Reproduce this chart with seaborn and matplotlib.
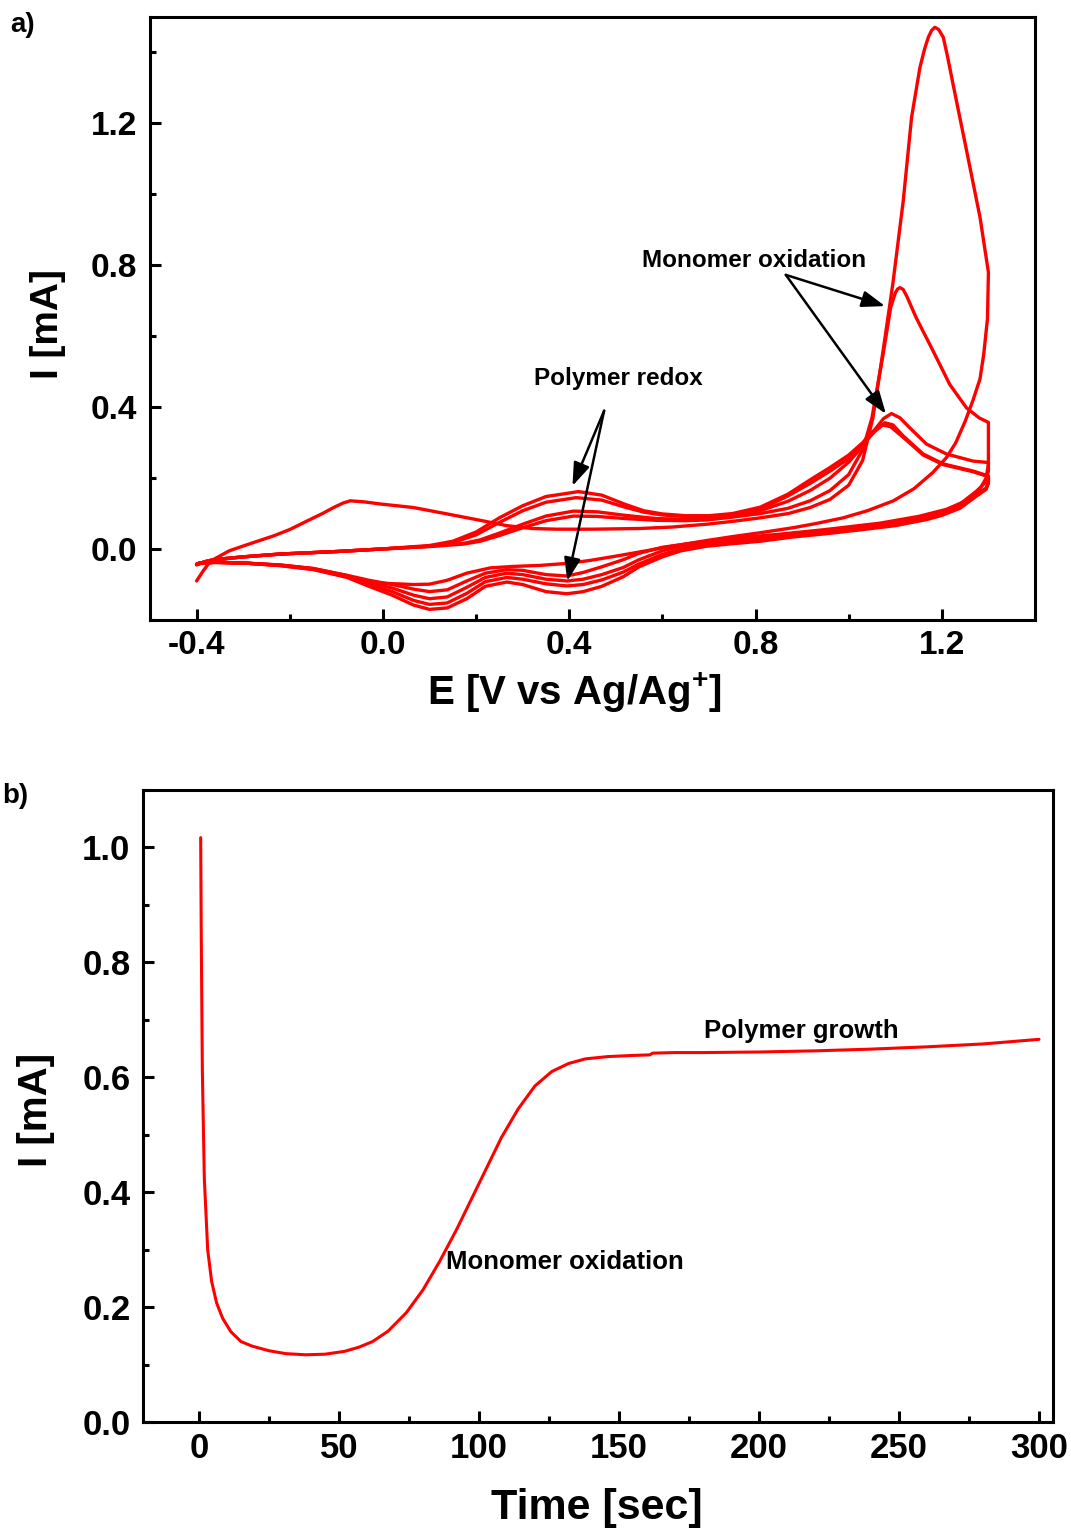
import matplotlib
matplotlib.use("Agg")
import numpy as np
import pandas as pd
import matplotlib.pyplot as plt
import seaborn as sns
from matplotlib.ticker import MultipleLocator

# ---------------- data: panel a (cyclic voltammograms, 5 cycles) ----------------
c1_fwd_E = [-0.40, -0.385, -0.37, -0.33, -0.29, -0.235, -0.20, -0.163, -0.13, -0.106, -0.085, -0.07, -0.04,
            -0.005, 0.066, 0.138, 0.209, 0.266, 0.32, 0.373, 0.45, 0.552, 0.62, 0.695, 0.75, 0.81, 0.87, 0.917,
            0.96, 1.00, 1.03, 1.052, 1.074, 1.095, 1.117, 1.135, 1.153, 1.163, 1.171, 1.178, 1.185, 1.193, 1.203,
            1.212, 1.224, 1.253, 1.282, 1.30]
c1_fwd_I = [-0.09, -0.06, -0.034, -0.005, 0.013, 0.037, 0.055, 0.079, 0.100, 0.117, 0.130, 0.136, 0.133,
            0.127, 0.117, 0.099, 0.081, 0.066, 0.058, 0.056, 0.056, 0.058, 0.062, 0.07, 0.078, 0.088, 0.10, 0.117,
            0.14, 0.18, 0.25, 0.37, 0.56, 0.75, 0.98, 1.217, 1.358, 1.41, 1.443, 1.462, 1.471, 1.465, 1.443,
            1.39, 1.311, 1.124, 0.935, 0.78]
c1_rev_E = [1.298, 1.29, 1.282, 1.267, 1.25, 1.23, 1.21, 1.18, 1.14, 1.096, 1.04, 0.988, 0.93, 0.88, 0.81, 0.75,
            0.695, 0.62, 0.552, 0.50, 0.445, 0.40, 0.338, 0.28, 0.231, 0.18, 0.138, 0.10, 0.066, 0.03, -0.005,
            -0.04, -0.077, -0.149, -0.22, -0.291, -0.36, -0.39, -0.40]
c1_rev_I = [0.65, 0.55, 0.48, 0.42, 0.36, 0.30, 0.258, 0.215, 0.17, 0.136, 0.108, 0.088, 0.072, 0.06, 0.046, 0.035,
            0.024, 0.008, -0.008, -0.02, -0.032, -0.040, -0.046, -0.049, -0.053, -0.068, -0.088, -0.099, -0.10,
            -0.098, -0.096, -0.09, -0.075, -0.055, -0.045, -0.040, -0.038, -0.040, -0.045]

c2_fwd_E = [-0.40, -0.38, -0.363, -0.30, -0.22, -0.10, -0.005, 0.10, 0.173, 0.209, 0.25, 0.30, 0.35, 0.409, 0.46,
            0.52, 0.587, 0.65, 0.695, 0.75, 0.81, 0.87, 0.917, 0.96, 1.00, 1.03, 1.05, 1.074, 1.09, 1.10, 1.105,
            1.11, 1.117, 1.125, 1.145, 1.181, 1.217, 1.253, 1.28, 1.30]
c2_fwd_I = [-0.043, -0.035, -0.03, -0.022, -0.014, -0.007, 0.0, 0.007, 0.014, 0.022, 0.038, 0.06, 0.08, 0.093, 0.092,
            0.086, 0.081, 0.08, 0.082, 0.09, 0.10, 0.115, 0.136, 0.165, 0.21, 0.28, 0.37, 0.55, 0.68, 0.722, 0.733,
            0.737, 0.732, 0.712, 0.652, 0.559, 0.464, 0.398, 0.37, 0.357]
c2_rev_E = [1.30, 1.30, 1.295, 1.28, 1.25, 1.21, 1.15, 1.067, 0.95, 0.853, 0.75, 0.695, 0.60, 0.55, 0.516, 0.47,
            0.43, 0.395, 0.35, 0.30, 0.266, 0.22, 0.18, 0.138, 0.10, 0.066, 0.02, -0.03, -0.077, -0.149, -0.22,
            -0.291, -0.36, -0.395, -0.40]
c2_rev_I = [0.30, 0.24, 0.20, 0.165, 0.135, 0.112, 0.092, 0.073, 0.055, 0.042, 0.030, 0.022, 0.005, -0.012, -0.03,
            -0.05, -0.066, -0.076, -0.072, -0.06, -0.058, -0.068, -0.09, -0.115, -0.12, -0.113, -0.10, -0.088,
            -0.074, -0.055, -0.045, -0.040, -0.037, -0.040, -0.043]

c3_fwd_E = [-0.40, -0.38, -0.363, -0.30, -0.22, -0.10, -0.005, 0.10, 0.173, 0.209, 0.25, 0.30, 0.35, 0.409, 0.46,
            0.52, 0.587, 0.65, 0.695, 0.75, 0.81, 0.87, 0.917, 0.96, 1.00, 1.03, 1.055, 1.075, 1.092, 1.11, 1.131,
            1.167, 1.21, 1.267, 1.30]
c3_fwd_I = [-0.043, -0.035, -0.03, -0.022, -0.014, -0.007, 0.0, 0.008, 0.016, 0.026, 0.045, 0.07, 0.093, 0.107,
            0.105, 0.095, 0.086, 0.084, 0.085, 0.092, 0.108, 0.135, 0.165, 0.20, 0.245, 0.29, 0.335, 0.368, 0.382,
            0.37, 0.342, 0.296, 0.268, 0.248, 0.244]
c3_rev_E = [1.30, 1.295, 1.275, 1.239, 1.20, 1.167, 1.10, 1.024, 0.95, 0.88, 0.81, 0.75, 0.695, 0.64, 0.60, 0.55,
            0.516, 0.47, 0.43, 0.395, 0.35, 0.30, 0.266, 0.22, 0.18, 0.138, 0.10, 0.066, 0.02, -0.03, -0.077,
            -0.149, -0.22, -0.291, -0.36, -0.395, -0.40]
c3_rev_I = [0.22, 0.19, 0.164, 0.127, 0.105, 0.092, 0.075, 0.062, 0.052, 0.044, 0.034, 0.027, 0.019, 0.008, -0.005,
            -0.03, -0.052, -0.072, -0.085, -0.09, -0.085, -0.072, -0.068, -0.08, -0.108, -0.135, -0.14, -0.13,
            -0.11, -0.094, -0.076, -0.056, -0.046, -0.040, -0.037, -0.040, -0.043]

c4_fwd_E = [-0.40, -0.38, -0.363, -0.30, -0.22, -0.10, -0.005, 0.10, 0.15, 0.20, 0.25, 0.30, 0.35, 0.415, 0.47,
            0.52, 0.56, 0.60, 0.65, 0.70, 0.75, 0.81, 0.87, 0.917, 0.96, 1.00, 1.03, 1.055, 1.078, 1.095, 1.117,
            1.16, 1.203, 1.267, 1.30]
c4_fwd_I = [-0.043, -0.035, -0.03, -0.022, -0.014, -0.007, 0.0, 0.008, 0.018, 0.04, 0.075, 0.108, 0.132, 0.145,
            0.138, 0.118, 0.104, 0.096, 0.092, 0.092, 0.097, 0.112, 0.15, 0.185, 0.22, 0.255, 0.295, 0.33, 0.356,
            0.35, 0.319, 0.268, 0.24, 0.22, 0.206]
c4_rev_E = [1.30, 1.295, 1.275, 1.239, 1.20, 1.167, 1.10, 1.024, 0.95, 0.88, 0.81, 0.75, 0.695, 0.64, 0.60, 0.55,
            0.516, 0.47, 0.43, 0.395, 0.35, 0.30, 0.266, 0.22, 0.18, 0.138, 0.10, 0.066, 0.02, -0.03, -0.077,
            -0.149, -0.22, -0.291, -0.36, -0.395, -0.40]
c4_rev_I = [0.19, 0.172, 0.155, 0.12, 0.1, 0.088, 0.07, 0.058, 0.047, 0.038, 0.027, 0.02, 0.013, 0.0, -0.015,
            -0.042, -0.065, -0.087, -0.1, -0.104, -0.098, -0.085, -0.08, -0.092, -0.125, -0.152, -0.156, -0.145,
            -0.12, -0.1, -0.078, -0.057, -0.046, -0.040, -0.037, -0.040, -0.043]

c5_fwd_E = [-0.40, -0.38, -0.363, -0.30, -0.22, -0.10, -0.005, 0.10, 0.15, 0.20, 0.25, 0.30, 0.35, 0.42, 0.47,
            0.52, 0.56, 0.60, 0.65, 0.70, 0.75, 0.81, 0.87, 0.917, 0.96, 1.00, 1.03, 1.05, 1.072, 1.09, 1.117,
            1.16, 1.203, 1.267, 1.30]
c5_fwd_I = [-0.043, -0.035, -0.03, -0.022, -0.014, -0.007, 0.0, 0.01, 0.022, 0.048, 0.088, 0.122, 0.148, 0.162,
            0.152, 0.126, 0.108, 0.099, 0.094, 0.094, 0.1, 0.118, 0.155, 0.195, 0.23, 0.265, 0.30, 0.33, 0.35,
            0.345, 0.315, 0.265, 0.238, 0.218, 0.204]
c5_rev_E = [1.30, 1.295, 1.275, 1.239, 1.20, 1.167, 1.10, 1.024, 0.95, 0.88, 0.81, 0.75, 0.695, 0.64, 0.60, 0.55,
            0.516, 0.47, 0.43, 0.395, 0.35, 0.30, 0.266, 0.22, 0.18, 0.138, 0.10, 0.066, 0.02, -0.03, -0.077,
            -0.149, -0.22, -0.291, -0.36, -0.395, -0.40]
c5_rev_I = [0.185, 0.168, 0.15, 0.115, 0.095, 0.083, 0.066, 0.054, 0.043, 0.034, 0.022, 0.015, 0.008, -0.005,
            -0.022, -0.05, -0.078, -0.105, -0.12, -0.126, -0.12, -0.1, -0.093, -0.105, -0.14, -0.166, -0.17,
            -0.158, -0.13, -0.105, -0.08, -0.058, -0.047, -0.040, -0.037, -0.040, -0.043]

# ---------------- data: panel b (chronoamperometry) ----------------
time_s = [0.6, 0.8, 1.2, 1.9, 3.1, 4.5, 6.3, 8.5, 11.4, 15, 19, 25, 31, 38, 45, 52, 57, 62, 67.5, 74, 80, 86, 92,
          96, 100, 104, 108, 114, 120, 126, 132, 138, 146, 155, 161, 162, 170, 180, 200, 220, 240, 260, 280, 300]
current_mA = [1.017, 0.85, 0.61, 0.424, 0.30, 0.245, 0.207, 0.18, 0.157, 0.14, 0.132, 0.124, 0.119, 0.117, 0.118,
              0.123, 0.130, 0.14, 0.158, 0.19, 0.23, 0.28, 0.335, 0.375, 0.415, 0.455, 0.495, 0.545, 0.585, 0.61,
              0.624, 0.632, 0.636, 0.638, 0.639, 0.642, 0.643, 0.643, 0.644, 0.646, 0.649, 0.653, 0.658, 0.666]

cv_xticks = [-0.4, 0.0, 0.4, 0.8, 1.2]
cv_yticks = [0.0, 0.4, 0.8, 1.2]
ca_xticks = [0, 50, 100, 150, 200, 250, 300]
ca_yticks = [0.0, 0.2, 0.4, 0.6, 0.8, 1.0]

# ---------------- style ----------------
sns.set_theme(style="ticks")
plt.rcParams["font.family"] = ["Liberation Sans", "DejaVu Sans"]
plt.rcParams["font.weight"] = "bold"
plt.rcParams["axes.labelweight"] = "bold"
plt.rcParams["mathtext.fontset"] = "custom"
plt.rcParams["mathtext.rm"] = "Liberation Sans:bold"
plt.rcParams["mathtext.bf"] = "Liberation Sans:bold"
plt.rcParams["mathtext.it"] = "Liberation Sans:bold"
plt.rcParams["axes.edgecolor"] = "black"
plt.rcParams["xtick.color"] = "black"
plt.rcParams["ytick.color"] = "black"
plt.rcParams["text.color"] = "black"
plt.rcParams["axes.labelcolor"] = "black"

RED = "#FF0000"

fig = plt.figure(figsize=(10.71, 15.32), dpi=100)
fig.patch.set_facecolor("white")

def style_axis(ax, tick_fs, lw=2.2):
    for sp in ax.spines.values():
        sp.set_linewidth(lw)
        sp.set_color("black")
        sp.set_visible(True)
    ax.tick_params(which="both", direction="in", top=False, right=False, width=lw)
    ax.tick_params(which="major", length=8, labelsize=tick_fs)
    ax.tick_params(which="minor", length=4.5)
    ax.tick_params(axis="x", pad=7)
    ax.tick_params(axis="y", pad=9)
    ax.grid(False)

# ---------------- panel a ----------------
axA = fig.add_axes([150 / 1071, 1 - 620 / 1532, 885 / 1071, 603 / 1532])
cycles = [(c1_fwd_E + c1_rev_E, c1_fwd_I + c1_rev_I),
          (c2_fwd_E + c2_rev_E, c2_fwd_I + c2_rev_I),
          (c3_fwd_E + c3_rev_E, c3_fwd_I + c3_rev_I),
          (c4_fwd_E + c4_rev_E, c4_fwd_I + c4_rev_I),
          (c5_fwd_E + c5_rev_E, c5_fwd_I + c5_rev_I)]
rows = []
for k, (Es, Is) in enumerate(cycles, start=1):
    for j, (e, i) in enumerate(zip(Es, Is)):
        rows.append({"E": e, "I": i, "cycle": k, "order": j})
df_cv = pd.DataFrame(rows)
sns.lineplot(data=df_cv, x="E", y="I", units="cycle", estimator=None, sort=False,
             color=RED, lw=2.4, ax=axA, legend=False)
for ln in axA.get_lines():
    ln.set_solid_joinstyle("round")
axA.set_xlim(-0.5, 1.4)
axA.set_ylim(-0.2, 1.5)
axA.set_xticks(cv_xticks)
axA.set_xticklabels([f"{v:.1f}" for v in cv_xticks])
axA.set_yticks(cv_yticks)
axA.set_yticklabels([f"{v:.1f}" for v in cv_yticks])
axA.xaxis.set_minor_locator(MultipleLocator(0.2))
axA.yaxis.set_minor_locator(MultipleLocator(0.2))
style_axis(axA, 24)
axA.set_xlabel(r"E [V vs Ag/Ag$^{+}$]", fontsize=29, fontweight="bold")
axA.set_ylabel("I [mA]", fontsize=28, fontweight="bold")
axA.xaxis.set_label_coords(0.48, -0.085)
axA.yaxis.set_label_coords(-0.095, 0.49)

axA.text(0.797, 0.813, "Monomer oxidation", fontsize=17.5, fontweight="bold", ha="center", va="center")
axA.text(0.505, 0.48, "Polymer redox", fontsize=17.5, fontweight="bold", ha="center", va="center")
arrow_kw = dict(arrowstyle="-|>,head_length=0.7,head_width=0.25", color="black", lw=1.8,
                shrinkA=0, shrinkB=0, mutation_scale=20)
for end in [(1.078, 0.685), (1.080, 0.381)]:
    axA.annotate("", xy=end, xytext=(0.865, 0.773), arrowprops=arrow_kw)
for end in [(0.407, 0.178), (0.396, -0.09)]:
    axA.annotate("", xy=end, xytext=(0.475, 0.39), arrowprops=arrow_kw)

fig.text(10 / 1071, 1 - 12 / 1532, "a)", fontsize=20, fontweight="bold", ha="left", va="top")

# ---------------- panel b ----------------
axB = fig.add_axes([143 / 1071, 1 - 1422 / 1532, 910 / 1071, 632 / 1532])
df_ca = pd.DataFrame({"t": time_s, "I": current_mA})
sns.lineplot(data=df_ca, x="t", y="I", sort=False, estimator=None, color=RED, lw=2.2, ax=axB)
for ln in axB.get_lines():
    ln.set_solid_joinstyle("round")
axB.set_xlim(-20, 305)
axB.set_ylim(0, 1.1)
axB.set_xticks(ca_xticks)
axB.set_xticklabels([str(v) for v in ca_xticks])
axB.set_yticks(ca_yticks)
axB.set_yticklabels([f"{v:.1f}" for v in ca_yticks])
axB.xaxis.set_minor_locator(MultipleLocator(25))
axB.yaxis.set_minor_locator(MultipleLocator(0.1))
style_axis(axB, 25)
axB.set_xlabel("Time [sec]", fontsize=31, fontweight="bold")
axB.set_ylabel("I [mA]", fontsize=29, fontweight="bold")
axB.xaxis.set_label_coords(0.499, -0.105)
axB.yaxis.set_label_coords(-0.097, 0.494)

axB.text(215, 0.68, "Polymer growth", fontsize=18.5, fontweight="bold", ha="center", va="center")
axB.text(130.7, 0.278, "Monomer oxidation", fontsize=18.5, fontweight="bold", ha="center", va="center")

fig.text(2 / 1071, 1 - 783 / 1532, "b)", fontsize=20, fontweight="bold", ha="left", va="top")

fig.savefig("out.png", dpi=100, facecolor="white")
